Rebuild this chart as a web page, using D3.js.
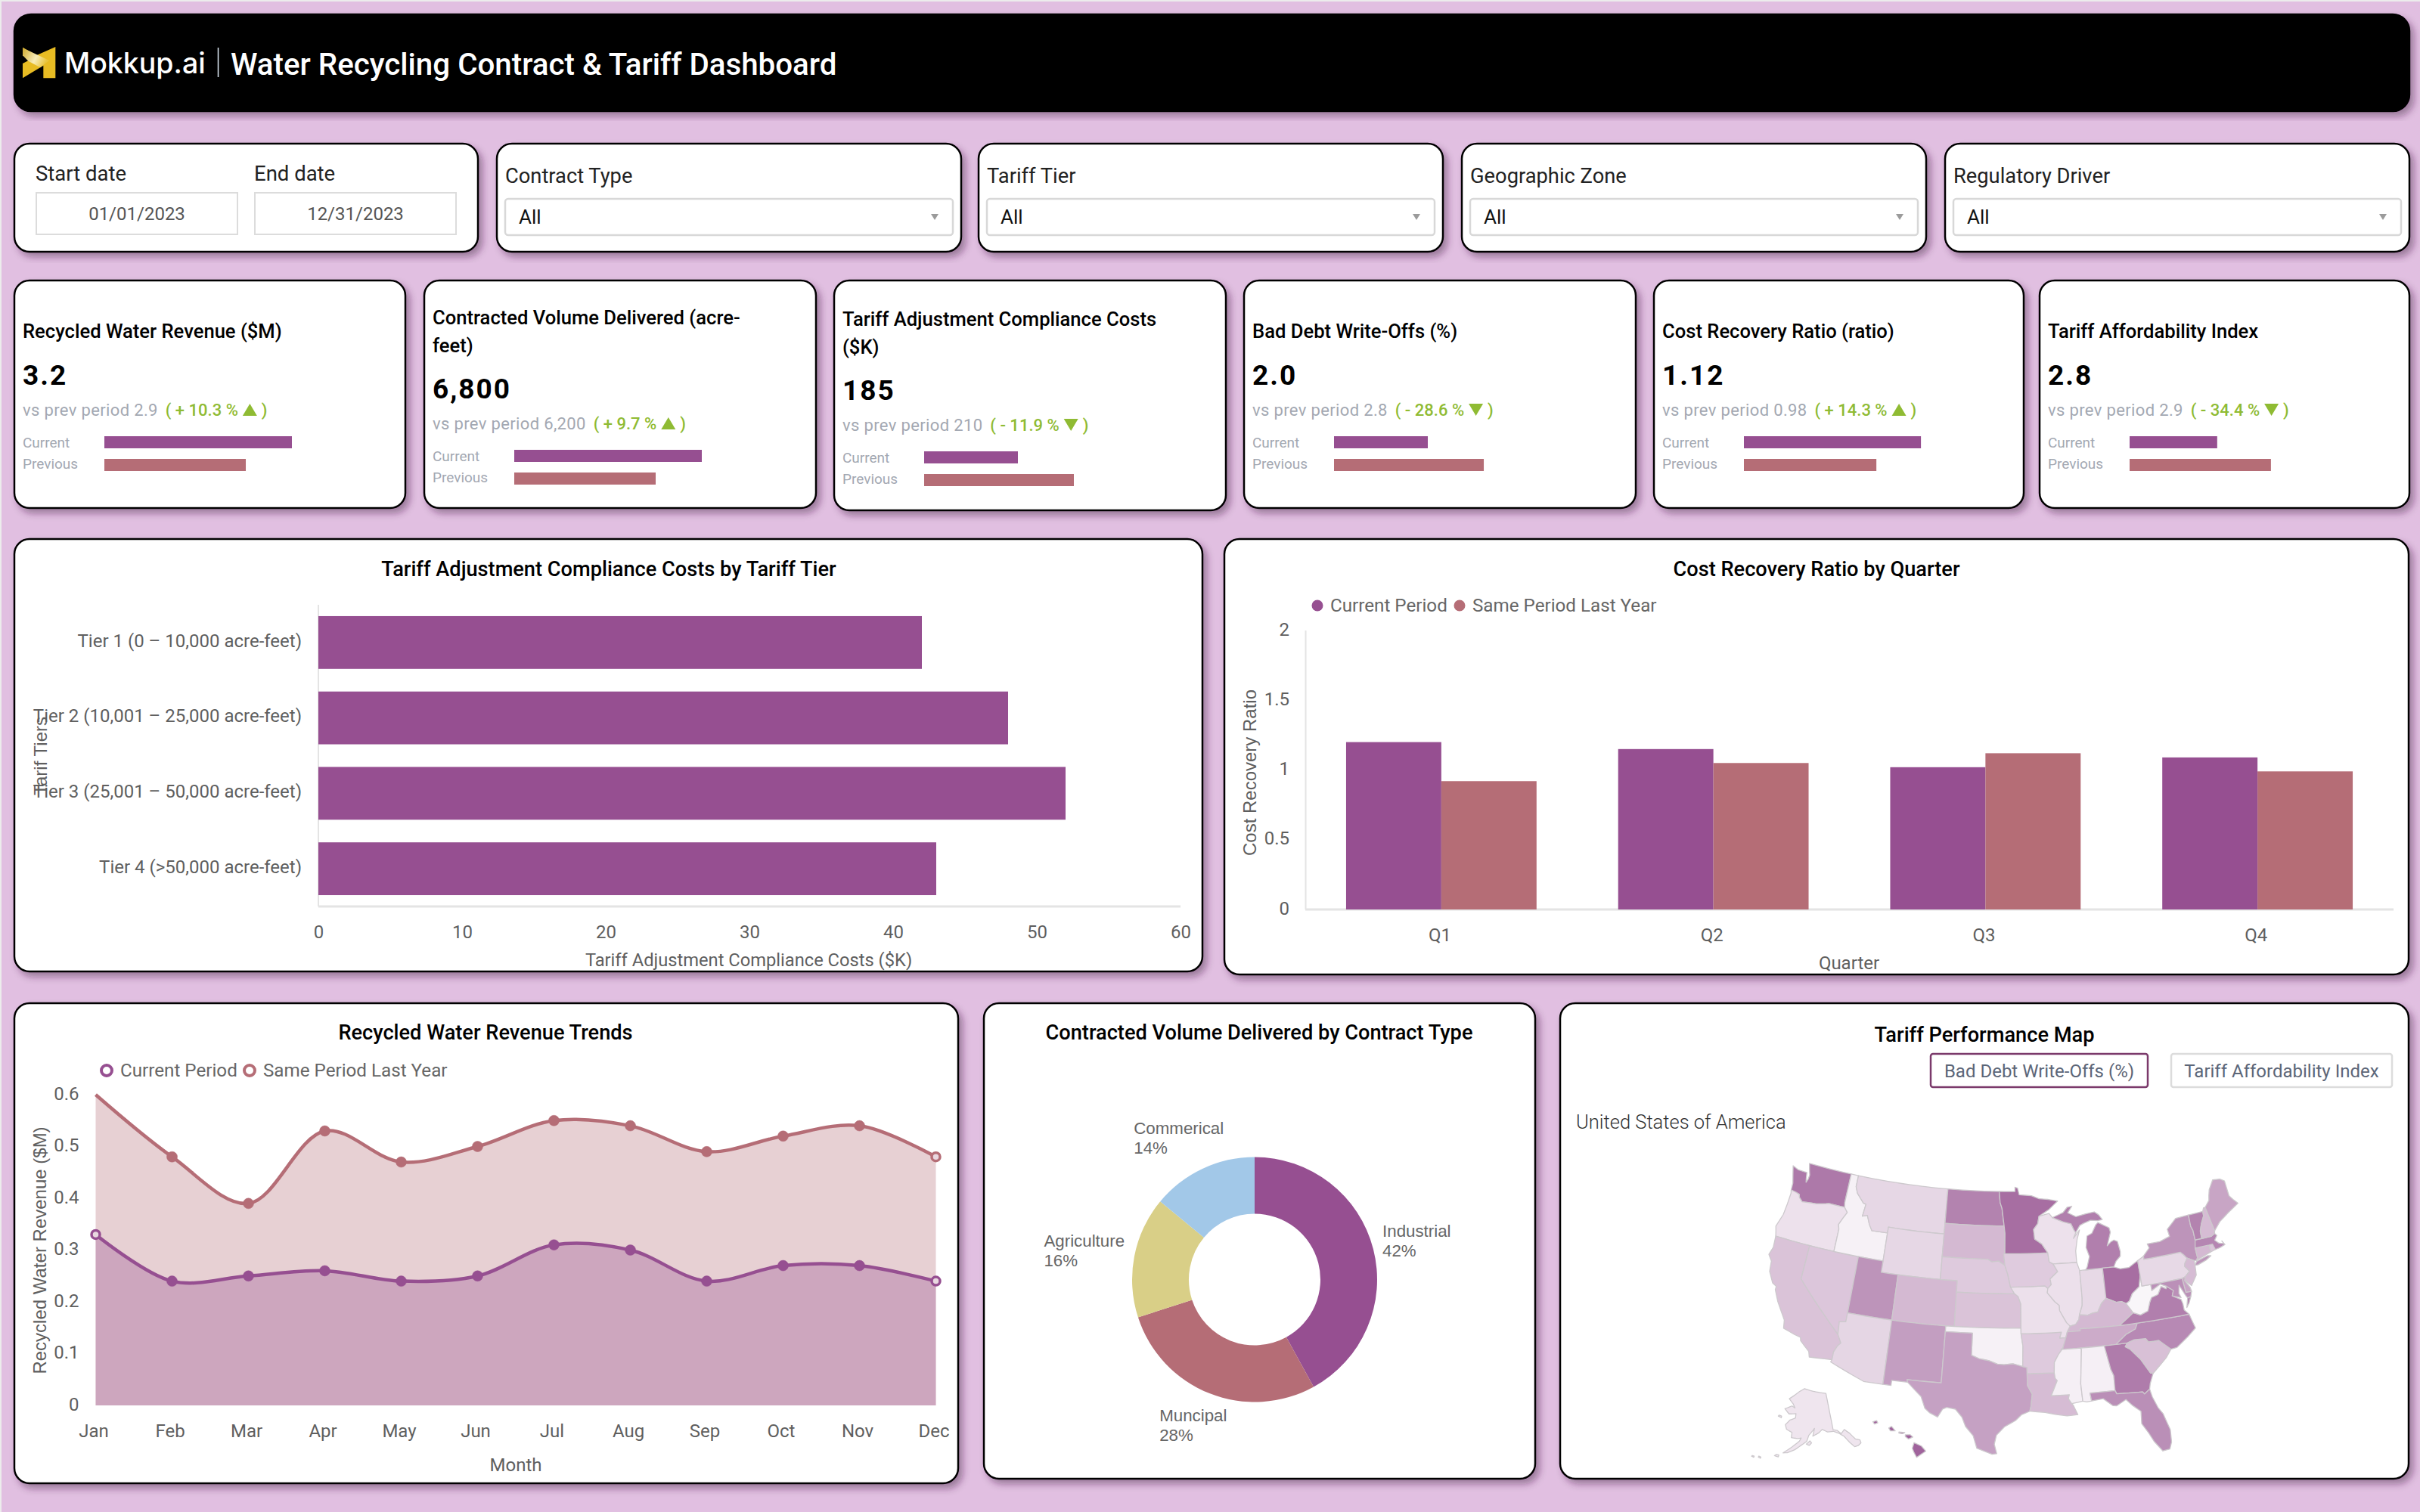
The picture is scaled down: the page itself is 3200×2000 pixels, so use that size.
<!DOCTYPE html>
<html>
<head>
<meta charset="utf-8">
<title>Water Recycling Contract &amp; Tariff Dashboard</title>
<script src="https://cdn.jsdelivr.net/npm/d3@7/dist/d3.min.js"></script>
<style>
  html, body { margin: 0; padding: 0; background: #ececec; }
  svg { display: block; font-family: Roboto, sans-serif; }
  .axis .domain, .axis line { display: none; }
  .axis text { font: 24px Roboto, sans-serif; fill: #5f5f5f; }
</style>
</head>
<body>
<svg id="dash" width="3200" height="2000"></svg>
<script>
// ---------- data ----------
const kpiTitleLines = [
  ["Recycled Water Revenue ($M)"],
  ["Contracted Volume Delivered (acre-", "feet)"],
  ["Tariff Adjustment Compliance Costs", "($K)"],
  ["Bad Debt Write-Offs (%)"],
  ["Cost Recovery Ratio (ratio)"],
  ["Tariff Affordability Index"]
];
const kpiCurrent = [3.2, 6800, 185, 2.0, 1.12, 2.8];
const kpiPrevious = [2.9, 6200, 210, 2.8, 0.98, 2.9];
const kpiCurrentLabels = ["3.2", "6,800", "185", "2.0", "1.12", "2.8"];
const kpiPreviousLabels = ["2.9", "6,200", "210", "2.8", "0.98", "2.9"];
const kpiDeltaLabels = ["( + 10.3 %", "( + 9.7 %", "( - 11.9 %", "( - 28.6 %", "( + 14.3 %", "( - 34.4 %"];
const kpiDeltaUp = [true, true, false, false, true, false];
// Each sparkbar starts from a truncated baseline, as the dashboard's mini charts do.
const kpiBarFloor = [1.98, 4361, 143.1, 0.66, 0.564, 2.637];
const kpiBarCeil = [3.2, 6800, 226.9, 3.34, 1.153, 2.986];

const filterLabels = ["Contract Type", "Tariff Tier", "Geographic Zone", "Regulatory Driver"];
const filterValue = "All";
const startDate = "01/01/2023";
const endDate = "12/31/2023";

const tierNames = ["Tier 1 (0 – 10,000 acre-feet)", "Tier 2 (10,001 – 25,000 acre-feet)", "Tier 3 (25,001 – 50,000 acre-feet)", "Tier 4 (>50,000 acre-feet)"];
const tierCosts = [42, 48, 52, 43];
const tierTicks = [0, 10, 20, 30, 40, 50, 60];

const quarters = ["Q1", "Q2", "Q3", "Q4"];
const recoveryCurrent = [1.2, 1.15, 1.02, 1.09];
const recoveryPrevious = [0.92, 1.05, 1.12, 0.99];
const recoveryTicks = [0, 0.5, 1, 1.5, 2];

const months = ["Jan", "Feb", "Mar", "Apr", "May", "Jun", "Jul", "Aug", "Sep", "Oct", "Nov", "Dec"];
const revenueCurrent = [0.33, 0.24, 0.25, 0.26, 0.24, 0.25, 0.31, 0.30, 0.24, 0.27, 0.27, 0.24];
const revenuePrevious = [0.60, 0.48, 0.39, 0.53, 0.47, 0.50, 0.55, 0.54, 0.49, 0.52, 0.54, 0.48];
const revenueTicks = [0, 0.1, 0.2, 0.3, 0.4, 0.5, 0.6];

const contractTypes = ["Industrial", "Muncipal", "Agriculture", "Commerical"];
const contractShares = [42, 28, 16, 14];

// Bad-debt index per state, 0 (lightest) to 100 (darkest).
const stateBadDebt = {
  WA:76, OR:14, CA:32, NV:30, ID:5, MT:20, WY:20, UT:60, AZ:21, CO:38, NM:54, ND:70, SD:38, NE:28, KS:32, OK:5, TX:52,
  MN:82, IA:27, MO:15, AR:28, LA:36, WI:14, IL:15, MI:72, IN:19, OH:82, KY:38, TN:46, MS:6, AL:6, GA:74, FL:63, SC:34,
  NC:66, VA:72, WV:2, PA:19, NY:60, MD:62, DE:50, NJ:36, CT:38, RI:30, MA:68, VT:70, NH:36, ME:50, AK:12, HI:88
};

// State outlines as flat lon,lat rings.
const stateOutlines = {
  WA: [[-124.73,48.38,-123.9,48.16,-123.1,48.15,-122.75,48.15,-122.6,47.6,-122.5,47.3,-122.35,47.6,-122.3,48.0,-122.5,48.4,-122.75,49.0,-117.03,49.0,-117.04,46.42,-116.92,45.995,-118.98,46.0,-119.3,45.93,-120.5,45.7,-121.2,45.65,-122.3,45.55,-122.78,45.85,-122.9,46.1,-123.4,46.2,-124.05,46.27,-124.1,46.9,-124.4,47.6]],
  OR: [[-124.05,46.27,-123.4,46.2,-122.9,46.1,-122.78,45.85,-122.3,45.55,-121.2,45.65,-120.5,45.7,-119.3,45.93,-118.98,46.0,-116.92,45.995,-116.46,45.6,-116.85,45.0,-117.2,44.4,-117.03,44.0,-117.03,42.0,-120.0,42.0,-124.21,42.0,-124.4,42.5,-124.55,42.84,-124.1,44.0,-124.0,45.0,-123.95,46.0]],
  CA: [[-124.21,42.0,-120.0,42.0,-120.0,39.0,-114.63,35.0,-114.14,34.3,-114.43,34.0,-114.72,33.4,-114.72,32.72,-117.12,32.53,-117.3,33.0,-118.4,33.75,-118.5,34.03,-119.2,34.15,-120.5,34.45,-120.65,35.15,-121.9,36.6,-122.5,37.5,-122.5,37.8,-123.0,38.0,-123.7,38.9,-123.85,39.8,-124.35,40.3,-124.1,41.0]],
  NV: [[-120.0,42.0,-117.03,42.0,-114.04,42.0,-114.04,37.0,-114.05,36.2,-114.75,36.1,-114.63,35.0,-120.0,39.0]],
  ID: [[-117.03,49.0,-116.05,49.0,-116.05,48.0,-115.7,47.45,-114.7,46.7,-114.35,46.65,-114.5,45.55,-113.9,45.7,-113.45,44.95,-113.0,44.45,-111.05,44.48,-111.05,42.0,-114.04,42.0,-117.03,42.0,-117.03,44.0,-117.2,44.4,-116.85,45.0,-116.46,45.6,-116.92,45.995,-117.04,46.42]],
  MT: [[-116.05,49.0,-104.05,49.0,-104.05,45.94,-104.05,45.0,-111.05,45.0,-111.05,44.48,-113.0,44.45,-113.45,44.95,-113.9,45.7,-114.5,45.55,-114.35,46.65,-114.7,46.7,-115.7,47.45,-116.05,48.0]],
  WY: [[-111.05,45.0,-104.05,45.0,-104.05,43.0,-104.05,41.0,-109.05,41.0,-111.05,41.0,-111.05,42.0,-111.05,44.48]],
  UT: [[-114.04,42.0,-111.05,42.0,-111.05,41.0,-109.05,41.0,-109.05,37.0,-114.04,37.0]],
  CO: [[-109.05,41.0,-104.05,41.0,-102.05,41.0,-102.05,40.0,-102.05,37.0,-103.0,37.0,-109.05,37.0]],
  AZ: [[-114.04,37.0,-109.05,37.0,-109.05,31.33,-111.07,31.33,-114.81,32.5,-114.72,32.72,-114.72,33.4,-114.43,34.0,-114.14,34.3,-114.63,35.0,-114.75,36.1,-114.05,36.2]],
  NM: [[-109.05,37.0,-103.0,37.0,-103.0,36.5,-103.04,32.0,-106.62,32.0,-106.53,31.78,-108.2,31.78,-108.2,31.33,-109.05,31.33]],
  ND: [[-104.05,49.0,-97.23,49.0,-97.1,48.0,-96.85,47.5,-96.56,45.94,-104.05,45.94]],
  SD: [[-104.05,45.94,-96.56,45.94,-96.45,45.3,-96.45,43.5,-96.6,43.5,-96.45,42.49,-97.2,42.85,-98.0,42.77,-98.5,43.0,-104.05,43.0]],
  NE: [[-104.05,43.0,-98.5,43.0,-98.0,42.77,-97.2,42.85,-96.45,42.49,-96.1,41.7,-95.9,41.0,-95.77,40.58,-95.31,40.0,-102.05,40.0,-102.05,41.0,-104.05,41.0]],
  KS: [[-102.05,40.0,-95.31,40.0,-94.9,39.75,-94.6,39.1,-94.62,37.0,-102.05,37.0]],
  OK: [[-103.0,37.0,-102.05,37.0,-94.62,37.0,-94.62,36.5,-94.43,35.4,-94.49,33.64,-95.5,33.88,-96.5,33.8,-97.2,33.85,-98.1,34.13,-99.2,34.3,-100.0,34.56,-100.0,36.5,-103.0,36.5]],
  TX: [[-106.62,32.0,-103.04,32.0,-103.0,36.5,-100.0,36.5,-100.0,34.56,-99.2,34.3,-98.1,34.13,-97.2,33.85,-96.5,33.8,-95.5,33.88,-94.49,33.64,-94.04,33.55,-94.04,33.0,-94.04,31.99,-93.55,31.2,-93.72,30.1,-93.85,29.7,-94.7,29.4,-95.3,28.9,-96.4,28.35,-97.2,27.6,-97.4,26.8,-97.15,25.96,-97.6,25.9,-99.1,26.4,-99.5,27.5,-100.3,28.3,-100.7,29.1,-101.4,29.77,-102.3,29.88,-102.7,29.7,-103.15,28.98,-104.0,29.3,-104.5,29.65,-105.0,30.65,-106.53,31.78]],
  LA: [[-94.04,33.0,-91.17,33.0,-91.1,32.5,-90.9,32.3,-91.6,31.0,-89.73,31.0,-89.85,30.65,-89.55,30.2,-89.4,30.05,-89.0,29.2,-90.1,29.15,-91.3,29.35,-92.3,29.55,-93.85,29.7,-93.72,30.1,-93.55,31.2,-94.04,31.99]],
  AR: [[-94.62,36.5,-90.15,36.5,-90.37,36.0,-89.7,36.0,-90.1,35.1,-90.6,34.6,-91.1,33.9,-91.17,33.0,-94.04,33.0,-94.04,33.55,-94.49,33.64,-94.43,35.4]],
  MO: [[-95.77,40.58,-91.73,40.61,-91.42,40.38,-91.5,40.0,-90.7,39.2,-90.2,38.85,-90.2,38.4,-89.5,37.3,-89.13,36.98,-89.5,36.5,-89.7,36.0,-90.37,36.0,-90.15,36.5,-94.62,36.5,-94.62,37.0,-94.6,39.1,-94.9,39.75,-95.31,40.0]],
  IA: [[-96.45,43.5,-91.22,43.5,-91.1,42.7,-90.64,42.5,-90.15,41.8,-91.1,41.2,-91.0,40.7,-91.42,40.38,-91.73,40.61,-95.77,40.58,-95.9,41.0,-96.1,41.7,-96.45,42.49,-96.6,43.5]],
  MN: [[-97.23,49.0,-95.15,49.0,-95.15,49.38,-94.8,49.3,-94.6,48.7,-93.0,48.6,-92.0,48.3,-90.8,48.2,-89.6,48.0,-90.8,47.3,-92.1,46.75,-92.3,46.1,-92.85,45.6,-92.75,44.75,-91.9,44.3,-91.22,43.5,-96.45,43.5,-96.45,45.3,-96.56,45.94,-96.85,47.5,-97.1,48.0]],
  WI: [[-92.1,46.75,-90.8,46.95,-90.4,46.57,-89.1,46.14,-88.1,45.9,-87.8,45.35,-87.6,45.1,-87.95,44.6,-87.1,45.3,-87.5,44.5,-87.8,43.5,-87.8,42.49,-90.64,42.5,-91.1,42.7,-91.22,43.5,-91.9,44.3,-92.75,44.75,-92.85,45.6,-92.3,46.1]],
  IL: [[-90.64,42.5,-87.8,42.49,-87.53,41.75,-87.53,39.35,-87.6,38.7,-88.0,37.9,-88.1,37.5,-88.5,37.1,-89.13,36.98,-89.5,37.3,-90.2,38.4,-90.2,38.85,-90.7,39.2,-91.5,40.0,-91.42,40.38,-91.0,40.7,-91.1,41.2,-90.15,41.8]],
  IN: [[-87.53,41.75,-87.2,41.76,-86.82,41.76,-84.8,41.76,-84.81,39.1,-85.4,38.7,-85.9,38.0,-86.5,37.95,-87.1,37.8,-88.0,37.9,-87.6,38.7,-87.53,39.35]],
  MI: [[-86.82,41.76,-84.8,41.76,-83.45,41.73,-83.1,42.2,-82.5,42.6,-82.42,43.0,-82.6,43.9,-83.0,44.07,-83.4,43.95,-83.9,43.65,-83.3,44.8,-83.4,45.2,-84.7,45.78,-85.0,45.6,-85.6,44.9,-86.25,44.7,-86.5,43.7,-86.2,42.9,-86.6,42.0],
       [-90.4,46.57,-89.0,46.95,-88.4,47.4,-87.8,47.45,-88.4,46.9,-87.4,46.5,-86.2,46.65,-85.0,46.75,-84.5,46.45,-84.1,46.0,-84.7,45.95,-85.6,46.05,-86.5,45.85,-87.0,45.7,-87.6,45.1,-87.8,45.35,-88.1,45.9,-89.1,46.14]],
  OH: [[-84.8,41.76,-83.45,41.73,-82.7,41.5,-81.7,41.5,-80.52,41.98,-80.52,40.64,-80.85,39.7,-81.75,39.2,-82.2,38.6,-82.6,38.42,-83.1,38.65,-83.7,38.65,-84.3,38.9,-84.81,39.1]],
  KY: [[-84.81,39.1,-84.3,38.9,-83.7,38.65,-83.1,38.65,-82.6,38.42,-81.97,37.54,-83.67,36.6,-88.07,36.68,-88.07,36.5,-89.5,36.5,-89.13,36.98,-88.5,37.1,-88.1,37.5,-88.0,37.9,-87.1,37.8,-86.5,37.95,-85.9,38.0,-85.4,38.7]],
  TN: [[-89.5,36.5,-88.07,36.5,-88.07,36.68,-83.67,36.6,-81.68,36.59,-82.0,36.1,-83.1,35.75,-84.32,35.0,-85.6,35.0,-88.2,35.0,-90.3,35.0,-90.1,35.1,-89.7,36.0]],
  MS: [[-90.3,35.0,-88.2,35.0,-88.1,34.9,-88.47,31.9,-88.4,30.35,-89.55,30.2,-89.85,30.65,-89.73,31.0,-91.6,31.0,-90.9,32.3,-91.1,32.5,-91.17,33.0,-91.1,33.9,-90.6,34.6,-90.1,35.1]],
  AL: [[-88.2,35.0,-85.6,35.0,-85.18,32.87,-84.95,32.3,-85.0,31.0,-87.6,31.0,-87.5,30.3,-88.0,30.25,-88.4,30.35,-88.47,31.9,-88.1,34.9]],
  GA: [[-85.6,35.0,-84.32,35.0,-83.1,35.0,-83.35,34.7,-82.9,34.45,-81.9,33.4,-81.4,32.6,-81.1,32.1,-80.85,32.03,-81.3,31.2,-81.45,30.72,-82.05,30.36,-82.2,30.57,-84.86,30.7,-85.0,31.0,-84.95,32.3,-85.18,32.87]],
  FL: [[-87.5,30.3,-87.6,31.0,-85.0,31.0,-84.86,30.7,-82.2,30.57,-82.05,30.36,-81.45,30.72,-81.3,30.0,-80.9,29.0,-80.5,28.4,-80.05,26.9,-80.13,25.8,-80.4,25.2,-81.1,25.13,-81.8,26.1,-82.2,26.9,-82.75,27.8,-82.65,28.9,-83.4,29.5,-84.0,30.1,-85.0,29.65,-85.4,29.7,-86.3,30.4]],
  SC: [[-83.1,35.0,-82.3,35.2,-81.05,35.15,-80.8,34.82,-79.67,34.8,-78.55,33.86,-79.2,33.2,-79.9,32.7,-80.85,32.03,-81.1,32.1,-81.4,32.6,-81.9,33.4,-82.9,34.45,-83.35,34.7]],
  NC: [[-84.32,35.0,-83.1,35.75,-82.0,36.1,-81.68,36.59,-75.87,36.55,-75.5,35.25,-76.5,34.65,-77.9,33.9,-78.55,33.86,-79.67,34.8,-80.8,34.82,-81.05,35.15,-82.3,35.2,-83.1,35.0]],
  VA: [[-83.67,36.6,-81.97,37.54,-81.2,37.25,-80.3,37.5,-79.95,38.2,-79.65,38.6,-78.87,38.76,-78.35,39.4,-77.83,39.13,-77.72,39.32,-77.05,38.85,-77.3,38.4,-76.4,37.95,-76.3,37.55,-76.3,37.0,-75.87,36.55,-81.68,36.59],
       [-75.95,37.15,-75.65,37.95,-75.25,38.03,-75.6,37.5]],
  WV: [[-82.6,38.42,-82.2,38.6,-81.75,39.2,-80.85,39.7,-80.52,40.64,-80.52,39.72,-79.48,39.72,-79.48,39.2,-78.4,39.62,-77.72,39.32,-77.83,39.13,-78.35,39.4,-78.87,38.76,-79.65,38.6,-79.95,38.2,-80.3,37.5,-81.2,37.25,-81.97,37.54]],
  PA: [[-80.52,41.98,-79.76,42.27,-79.76,42.0,-75.35,42.0,-75.05,41.75,-74.7,41.36,-75.1,40.95,-75.2,40.7,-74.75,40.2,-75.4,39.8,-75.79,39.72,-79.48,39.72,-80.52,39.72,-80.52,40.64]],
  NY: [[-79.76,42.27,-78.9,42.9,-79.05,43.27,-77.5,43.27,-76.2,43.55,-76.3,44.2,-75.0,44.98,-73.35,45.01,-73.4,44.0,-73.25,43.6,-73.27,42.75,-73.5,42.05,-73.49,41.2,-73.65,41.0,-73.95,41.0,-74.7,41.36,-75.05,41.75,-75.35,42.0,-79.76,42.0],
       [-74.0,40.58,-73.7,40.9,-72.3,41.15,-71.9,41.07,-72.6,40.8,-73.6,40.58]],
  NJ: [[-73.95,41.0,-74.0,40.45,-74.1,39.75,-74.9,38.93,-75.5,39.5,-75.4,39.8,-74.75,40.2,-75.2,40.7,-75.1,40.95,-74.7,41.36]],
  DE: [[-75.79,39.72,-75.4,39.8,-75.55,39.5,-75.1,38.8,-75.05,38.45,-75.7,38.46]],
  MD: [[-79.48,39.72,-75.79,39.72,-75.7,38.46,-75.05,38.45,-75.25,38.03,-75.65,37.95,-75.85,38.3,-76.3,39.2,-76.5,38.5,-76.35,38.1,-77.3,38.4,-77.05,38.85,-77.72,39.32,-78.4,39.62,-79.48,39.2]],
  CT: [[-73.5,42.05,-71.8,42.02,-71.8,41.4,-73.65,41.0,-73.49,41.2]],
  RI: [[-71.8,42.02,-71.38,42.02,-71.2,41.5,-71.8,41.4]],
  MA: [[-73.5,42.05,-73.27,42.75,-72.46,42.73,-71.3,42.7,-70.8,42.87,-70.6,42.65,-71.0,42.3,-70.6,41.95,-70.05,41.8,-70.2,42.07,-69.95,41.7,-70.65,41.55,-71.2,41.5,-71.38,42.02,-71.8,42.02]],
  VT: [[-73.35,45.01,-71.5,45.01,-71.55,44.6,-72.05,44.0,-72.4,43.4,-72.46,42.73,-73.27,42.75,-73.25,43.6,-73.4,44.0]],
  NH: [[-71.5,45.01,-71.3,45.3,-71.08,45.3,-70.7,43.1,-70.8,42.87,-71.3,42.7,-72.46,42.73,-72.4,43.4,-72.05,44.0,-71.55,44.6]],
  ME: [[-71.08,45.3,-70.4,45.8,-70.25,46.2,-70.0,46.7,-69.23,47.46,-68.3,47.35,-67.8,47.07,-67.8,45.7,-67.45,45.3,-67.0,44.85,-68.5,44.3,-69.8,43.75,-70.7,43.1]],
  AK: [[-141.0,69.65,-141.0,60.3,-139.0,59.9,-137.5,58.9,-135.5,59.7,-133.5,58.4,-131.8,56.6,-130.0,56.0,-130.0,55.2,-131.5,54.8,-133.2,54.8,-134.7,56.2,-136.5,58.1,-138.5,59.1,-141.0,59.9,-144.0,60.0,-146.5,60.8,-148.5,60.0,-151.5,59.3,-150.5,61.2,-153.5,59.5,-154.5,58.0,-157.0,57.0,-160.0,55.7,-163.0,54.8,-164.8,54.6,-162.0,56.0,-158.0,58.0,-157.2,58.8,-159.0,58.6,-162.0,58.7,-162.0,60.0,-165.0,60.6,-166.0,61.7,-164.0,63.0,-161.0,63.7,-161.0,64.8,-165.0,64.5,-168.0,65.6,-164.0,66.6,-162.0,66.2,-163.5,67.2,-166.5,68.3,-163.0,69.5,-160.0,70.5,-156.5,71.3,-152.0,70.8,-146.0,70.2],
       [-154.7,57.3,-153.3,57.0,-152.2,57.6,-153.0,58.1],
       [-168.2,53.5,-166.5,53.4,-166.4,53.9,-167.5,53.9],
       [-174.5,52.1,-173.5,52.0,-173.5,52.3,-174.4,52.4],
       [-177.2,51.75,-176.2,51.7,-176.2,52.0,-177.0,52.0],
       [-170.8,63.4,-168.9,63.2,-169.0,63.6,-170.5,63.7]],
  HI: [[-155.88,20.25,-155.2,19.95,-154.8,19.5,-155.65,18.95,-155.9,19.4,-156.05,19.75],
       [-156.7,20.95,-156.25,20.95,-156.0,20.75,-156.4,20.58,-156.7,20.8],
       [-157.3,21.2,-156.75,21.15,-156.95,21.05,-157.3,21.1],
       [-158.25,21.55,-158.0,21.7,-157.65,21.3,-158.1,21.3],
       [-159.75,22.1,-159.4,22.2,-159.3,22.0,-159.6,21.9]]
};

// ---------- palette ----------
const PURPLE = "#964f91", ROSE = "#b56d76", SAND = "#d9cf87", SKY = "#a2c8e8";
const MUTED = "#a3a8b2", GREEN = "#8fbb33", INK = "#5f5f5f";

const svg = d3.select("#dash");
const defs = svg.append("defs");

const shadow = defs.append("filter").attr("id", "cardShadow")
  .attr("x", "-5%").attr("y", "-5%").attr("width", "110%").attr("height", "115%");
shadow.append("feDropShadow").attr("dx", 5).attr("dy", 6).attr("stdDeviation", 5)
  .attr("flood-color", "#3c1e3c").attr("flood-opacity", 0.42);

const logoGrad = defs.append("linearGradient").attr("id", "logoSheen")
  .attr("x1", 0).attr("y1", 0).attr("x2", 1).attr("y2", 0.4);
logoGrad.append("stop").attr("offset", 0).attr("stop-color", "#cfa92e");
logoGrad.append("stop").attr("offset", 0.6).attr("stop-color", "#f8edb8");
logoGrad.append("stop").attr("offset", 1).attr("stop-color", "#e9c53f");

const blur = defs.append("filter").attr("id", "softMap").attr("x", "-2%").attr("y", "-2%").attr("width", "104%").attr("height", "104%");
blur.append("feGaussianBlur").attr("stdDeviation", 0.75);

// Page backdrop
svg.append("rect").attr("x", 2).attr("y", 2).attr("width", 3198).attr("height", 1998).attr("fill", "#e1bfe1");

// ---------- helpers ----------
function panel(x0, y0, x1, y1, fill = "#fff", rx = 20) {
  svg.append("rect")
    .attr("x", x0).attr("y", y0).attr("width", x1 - x0).attr("height", y1 - y0)
    .attr("rx", rx).attr("fill", fill).attr("stroke", "#000").attr("stroke-width", 2.5)
    .attr("filter", "url(#cardShadow)");
}
function label(parent, x, y, str, size, color, opts = {}) {
  const t = parent.append("text")
    .attr("x", x).attr("y", y).attr("dy", "0.36em")
    .attr("font-family", opts.family || "Roboto, sans-serif")
    .attr("font-size", size).attr("font-weight", opts.weight || 400)
    .attr("fill", color).attr("text-anchor", opts.anchor || "start")
    .text(str);
  if (opts.spacing) t.attr("letter-spacing", opts.spacing);
  if (opts.rotate) t.attr("transform", `rotate(${opts.rotate} ${x} ${y})`);
  return t;
}
const chartTitle = (cx, cy, str) => label(svg, cx, cy, str, 27.2, "#000", { weight: 500, anchor: "middle" });
const ARIAL = '"Liberation Sans", Arial, sans-serif';

// ---------- header ----------
panel(19, 19, 3186, 147, "#000", 22);
const logo = svg.append("g").attr("transform", "translate(20,40) scale(0.3333)");
logo.append("path").attr("fill", "#e8bc23")
  .attr("d", "M30,68 L84,100 L160,66 L160,190 L112,190 L112,140 L30,190 L30,132 L72,110 L30,96 Z");
logo.append("path").attr("fill", "url(#logoSheen)")
  .attr("d", "M30,70 L135,120 L100,148 L52,122 L30,100 Z");
label(svg, 85, 83, "Mokkup.ai", 37.5, "#fff", { family: "Inter, sans-serif", weight: 500 });
svg.append("line").attr("x1", 288.5).attr("x2", 288.5).attr("y1", 63).attr("y2", 102)
  .attr("stroke", "#dfe9f5").attr("stroke-width", 1.5);
label(svg, 305, 84, "Water Recycling Contract & Tariff Dashboard", 40.3, "#fff", { weight: 500 });

// ---------- filter row ----------
panel(19, 190, 632, 333);
[[47, startDate, "Start date"], [336, endDate, "End date"]].forEach(([x, val, name]) => {
  label(svg, x, 229, name, 27.5, "#222");
  svg.append("rect").attr("x", x + 1).attr("y", 255).attr("width", 266).attr("height", 55)
    .attr("fill", "#fff").attr("stroke", "#dcdcdc").attr("stroke-width", 2);
  label(svg, x + 134, 282, val, 24, "#555", { anchor: "middle" });
});
const filterCards = [[657, 1271], [1294, 1908], [1933, 2547], [2572, 3186]];
filterLabels.forEach((name, i) => {
  const [x0, x1] = filterCards[i];
  panel(x0, 190, x1, 333);
  label(svg, x0 + 11, 232, name, 27.3, "#222");
  svg.append("rect").attr("x", x0 + 11).attr("y", 263).attr("width", x1 - x0 - 22).attr("height", 48)
    .attr("rx", 4).attr("fill", "#fff").attr("stroke", "#d8d8d8").attr("stroke-width", 2.5);
  label(svg, x0 + 29, 287, filterValue, 26, "#111");
  const ax = x1 - 35;
  svg.append("path").attr("d", `M${ax - 5},283 L${ax + 5},283 L${ax},291 Z`).attr("fill", "#9b9b9b");
});

// ---------- KPI row ----------
const kpiBoxes = [
  { x0: 19, x1: 536, y1: 672, shift: 0 },
  { x0: 561, x1: 1079, y1: 672, shift: 18 },
  { x0: 1103, x1: 1621, y1: 675, shift: 20 },
  { x0: 1645, x1: 2163, y1: 672, shift: 0 },
  { x0: 2187, x1: 2676, y1: 672, shift: 0 },
  { x0: 2697, x1: 3186, y1: 672, shift: 0 }
];
kpiBoxes.forEach((b, i) => {
  panel(b.x0, 371, b.x1, b.y1);
  const tx = b.x0 + 11, s = b.shift, lines = kpiTitleLines[i];
  lines.forEach((ln, j) => {
    const y = lines.length === 1 ? 438 : 420 + (i === 2 ? 2 : 0) + j * 37;
    label(svg, tx, y, ln, 25.6, "#000", { weight: 500 });
  });
  label(svg, tx, 496 + s, kpiCurrentLabels[i], 37, "#000", { weight: 700, spacing: 2 });

  const vs = label(svg, tx, 542 + s, "vs prev period " + kpiPreviousLabels[i], 22, MUTED, { spacing: 0.35 });
  const dx = tx + vs.node().getComputedTextLength() + 10;
  const delta = label(svg, dx, 542 + s, kpiDeltaLabels[i], 22, GREEN, { weight: 500 });
  const triX = dx + delta.node().getComputedTextLength() + 6;
  const up = kpiDeltaUp[i];
  svg.append("path").attr("fill", GREEN)
    .attr("d", up ? `M${triX},${550 + s} L${triX + 19},${550 + s} L${triX + 9.5},${534 + s} Z`
                  : `M${triX},${534 + s} L${triX + 19},${534 + s} L${triX + 9.5},${550 + s} Z`);
  label(svg, triX + 25, 542 + s, ")", 22, GREEN, { weight: 500 });

  const barX = d3.scaleLinear().domain([kpiBarFloor[i], kpiBarCeil[i]]).range([0, 248]);
  [["Current", kpiCurrent[i], PURPLE, 577, 8], ["Previous", kpiPrevious[i], ROSE, 607, 6]].forEach(([name, v, col, y, off]) => {
    label(svg, tx, y + s + off, name, 19, MUTED);
    svg.append("rect").attr("x", tx + 108).attr("y", y + s).attr("width", barX(v)).attr("height", 16).attr("fill", col);
  });
});

// ---------- compliance costs by tier ----------
panel(19, 713, 1590, 1285);
chartTitle(805, 752, "Tariff Adjustment Compliance Costs by Tariff Tier");
{
  const x = d3.scaleLinear().domain([0, 60]).range([421, 1561]);
  const y = d3.scaleBand().domain(tierNames).range([800, 1199]).padding(0.3).paddingOuter(0.15);
  svg.append("line").attr("x1", 421).attr("x2", 421).attr("y1", 800).attr("y2", 1199).attr("stroke", "#e4e4e4").attr("stroke-width", 2);
  svg.append("line").attr("x1", 421).attr("x2", 1561).attr("y1", 1199).attr("y2", 1199).attr("stroke", "#e4e4e4").attr("stroke-width", 3);
  svg.selectAll(null).data(tierCosts).join("rect")
    .attr("x", x(0)).attr("y", (d, i) => y(tierNames[i]))
    .attr("width", d => x(d) - x(0)).attr("height", y.bandwidth()).attr("fill", PURPLE);
  svg.append("g").attr("class", "axis").attr("transform", "translate(0,1199)")
    .call(d3.axisBottom(x).tickValues(tierTicks).tickSize(0).tickPadding(25));
  svg.append("g").attr("class", "axis").attr("transform", "translate(421,-2)")
    .call(d3.axisLeft(y).tickSize(0).tickPadding(22));
  label(svg, 990, 1269, "Tariff Adjustment Compliance Costs ($K)", 23.7, INK, { anchor: "middle" });
  label(svg, 53, 1000, "Tarif Tiers", 24, INK, { anchor: "middle", rotate: -90, family: ARIAL });
}

// ---------- cost recovery by quarter ----------
panel(1619, 713, 3185, 1289);
chartTitle(2402, 752, "Cost Recovery Ratio by Quarter");
{
  const x = d3.scaleBand().domain(quarters).range([1726, 3165]).paddingInner(0.3).paddingOuter(0.15);
  const sub = d3.scaleBand().domain(["cur", "prev"]).range([0, x.bandwidth()]);
  const y = d3.scaleLinear().domain([0, 2]).range([1203, 834]);
  svg.append("line").attr("x1", 1726.5).attr("x2", 1726.5).attr("y1", 834).attr("y2", 1203).attr("stroke", "#e4e4e4").attr("stroke-width", 2);
  svg.append("line").attr("x1", 1726).attr("x2", 3165).attr("y1", 1203).attr("y2", 1203).attr("stroke", "#e4e4e4").attr("stroke-width", 3);
  svg.selectAll(null).data(recoveryCurrent).join("rect")
    .attr("x", (d, i) => x(quarters[i]) + sub("cur")).attr("y", d => y(d))
    .attr("width", sub.bandwidth()).attr("height", d => y(0) - y(d)).attr("fill", PURPLE);
  svg.selectAll(null).data(recoveryPrevious).join("rect")
    .attr("x", (d, i) => x(quarters[i]) + sub("prev")).attr("y", d => y(d))
    .attr("width", sub.bandwidth()).attr("height", d => y(0) - y(d)).attr("fill", ROSE);
  svg.append("g").attr("class", "axis").attr("transform", "translate(-2,1203)")
    .call(d3.axisBottom(x).tickSize(0).tickPadding(25));
  const ya = svg.append("g").attr("class", "axis").attr("transform", "translate(1726,0)")
    .call(d3.axisLeft(y).tickValues(recoveryTicks).tickFormat(d3.format("~g")).tickSize(0).tickPadding(21));
  ya.selectAll("text").attr("dy", "0.25em");
  [["Current Period", PURPLE, 1742], ["Same Period Last Year", ROSE, 1930]].forEach(([name, col, cx]) => {
    svg.append("circle").attr("cx", cx).attr("cy", 801).attr("r", 7.5).attr("fill", col);
    label(svg, cx + 17, 800, name, 24.2, "#666");
  });
  label(svg, 2445, 1273, "Quarter", 24, INK, { anchor: "middle" });
  label(svg, 1652, 1022, "Cost Recovery Ratio", 24, INK, { anchor: "middle", rotate: -90, family: ARIAL });
}

// ---------- revenue trend ----------
panel(19, 1327, 1267, 1962);
chartTitle(642, 1365, "Recycled Water Revenue Trends");
{
  const x = d3.scalePoint().domain(months).range([126.5, 1237.5]);
  const y = d3.scaleLinear().domain([0, 0.6]).range([1859, 1448]);
  const curve = d3.curveCatmullRom.alpha(0.5);
  const lineOf = d3.line().x((d, i) => x(months[i])).y(d => y(d)).curve(curve);
  const areaOf = d3.area().x((d, i) => x(months[i])).y0(y(0)).y1(d => y(d)).curve(curve);
  [[revenuePrevious, ROSE], [revenueCurrent, PURPLE]].forEach(([vals, col]) => {
    svg.append("path").attr("d", areaOf(vals)).attr("fill", col).attr("fill-opacity", 0.32);
  });
  [[revenuePrevious, ROSE], [revenueCurrent, PURPLE]].forEach(([vals, col]) => {
    svg.append("path").attr("d", lineOf(vals)).attr("fill", "none").attr("stroke", col).attr("stroke-width", 4.5);
    // A value sitting on the axis ceiling has its marker clipped away.
    svg.selectAll(null).data(vals.map((v, i) => [v, i]).filter(([v]) => v < 0.6)).join("circle")
      .attr("cx", ([, i]) => x(months[i])).attr("cy", ([v]) => y(v))
      .attr("r", ([, i]) => (i === 0 || i === 11) ? 5.5 : 7)
      .attr("fill", ([, i]) => (i === 0 || i === 11) ? "#e9d8e0" : col)
      .attr("stroke", col).attr("stroke-width", ([, i]) => (i === 0 || i === 11) ? 3.5 : 0.5);
  });
  svg.append("g").attr("class", "axis").attr("transform", "translate(-3,1859)")
    .call(d3.axisBottom(x).tickSize(0).tickPadding(25));
  const ya = svg.append("g").attr("class", "axis").attr("transform", "translate(126.5,0)")
    .call(d3.axisLeft(y).tickValues(revenueTicks).tickFormat(d3.format("~g")).tickSize(0).tickPadding(22));
  ya.selectAll("text").attr("dy", "0.25em");
  [["Current Period", PURPLE, 141], ["Same Period Last Year", ROSE, 330]].forEach(([name, col, cx]) => {
    svg.append("circle").attr("cx", cx).attr("cy", 1416).attr("r", 7).attr("fill", "#fff").attr("stroke", col).attr("stroke-width", 4);
    label(svg, cx + 18, 1415, name, 24.2, "#666");
  });
  label(svg, 682, 1937, "Month", 24, INK, { anchor: "middle" });
  label(svg, 52, 1654, "Recycled Water Revenue ($M)", 24, INK, { anchor: "middle", rotate: -90, family: ARIAL });
}

// ---------- contract mix donut ----------
panel(1301, 1327, 2030, 1956);
chartTitle(1665, 1365, "Contracted Volume Delivered by Contract Type");
{
  const cx = 1659, cy = 1692.5, colours = [PURPLE, ROSE, SAND, SKY];
  const pie = d3.pie().sort(null)(contractShares);
  const arc = d3.arc().innerRadius(87).outerRadius(162);
  const g = svg.append("g").attr("transform", `translate(${cx},${cy})`);
  g.selectAll("path").data(pie).join("path").attr("d", arc).attr("fill", (d, i) => colours[i]);
  pie.forEach((d, i) => {
    const mid = (d.startAngle + d.endAngle) / 2, sin = Math.sin(mid), cos = Math.cos(mid);
    const px = cx + 176 * sin, py = cy - 176 * cos;
    const a = label(svg, px, 0, contractTypes[i], 22.3, "#666", { family: ARIAL });
    const b = label(svg, px, 0, contractShares[i] + "%", 22.3, "#666", { family: ARIAL });
    const w = Math.max(a.node().getComputedTextLength(), b.node().getComputedTextLength());
    const left = px - w * (0.5 - sin * 0.5);
    const top = py - 52 * (0.5 + cos * 0.6);
    a.attr("x", left).attr("y", top + 13);
    b.attr("x", left).attr("y", top + 39);
  });
}

// ---------- tariff map ----------
panel(2063, 1327, 3185, 1956);
chartTitle(2624, 1368, "Tariff Performance Map");
[["Bad Debt Write-Offs (%)", 2553, 2840, "#7b3a6b"], ["Tariff Affordability Index", 2871, 3163, "#dcdcdc"]].forEach(([name, x0, x1, col]) => {
  svg.append("rect").attr("x", x0).attr("y", 1394).attr("width", x1 - x0).attr("height", 44)
    .attr("rx", 3).attr("fill", "#fff").attr("stroke", col).attr("stroke-width", 2.5);
  label(svg, (x0 + x1) / 2, 1416, name, 24, "#5c6678", { anchor: "middle" });
});
label(svg, 2084, 1484, "United States of America", 25.5, "#333", { weight: 300 });
{
  const toRing = flat => {
    const pts = d3.range(0, flat.length, 2).map(k => [flat[k], flat[k + 1]]);
    const out = [];
    pts.forEach((p, k) => {
      const q = pts[(k + 1) % pts.length];
      const steps = Math.max(1, Math.ceil(Math.max(Math.abs(q[0] - p[0]), Math.abs(q[1] - p[1]))));
      for (let s = 0; s < steps; s++) out.push([p[0] + (q[0] - p[0]) * s / steps, p[1] + (q[1] - p[1]) * s / steps]);
    });
    out.push(out[0].slice());
    // d3-geo expects rings wound so that the small side is the interior.
    return d3.geoArea({ type: "Polygon", coordinates: [out] }) > 2 * Math.PI ? out.reverse() : out;
  };
  const features = Object.entries(stateOutlines).map(([code, rings]) => ({
    type: "Feature", id: code,
    geometry: { type: "MultiPolygon", coordinates: rings.map(r => [toRing(r)]) }
  }));
  const projection = d3.geoAlbersUsa().scale(860).translate([2649, 1731]);
  const path = d3.geoPath(projection);
  const shade = d3.scaleLinear().domain([0, 100]).range(["#fbf9fb", "#94508f"]);
  svg.append("g").attr("filter", "url(#softMap)")
    .selectAll("path").data(features).join("path")
    .attr("d", path).attr("fill", d => shade(stateBadDebt[d.id]))
    .attr("stroke", "#cdc9cd").attr("stroke-width", 1.3).attr("stroke-linejoin", "round");
}
</script>
</body>
</html>
